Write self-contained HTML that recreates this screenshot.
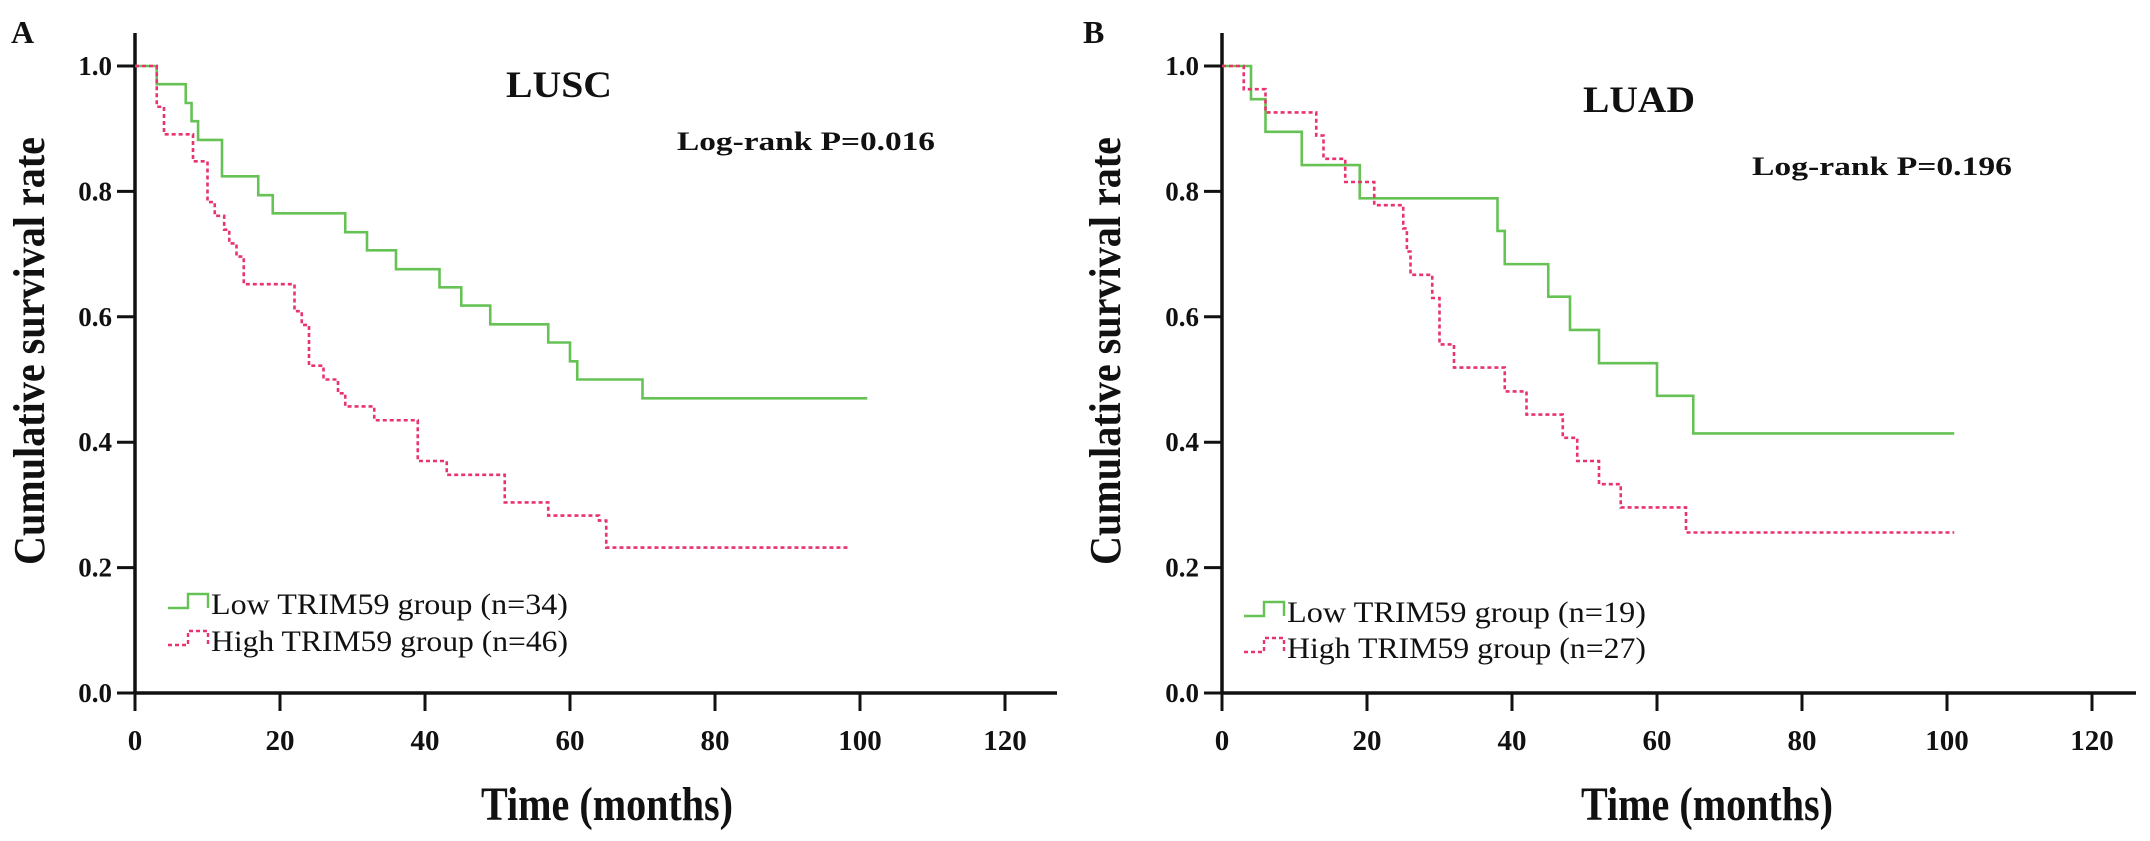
<!DOCTYPE html>
<html><head><meta charset="utf-8">
<style>
html,body{margin:0;padding:0;background:#fff;}
svg{display:block;}
text{font-family:"Liberation Serif",serif;fill:#111;}
.b{font-weight:bold;}
</style></head>
<body>
<svg id="fig" width="2150" height="841" viewBox="0 0 2150 841" xmlns="http://www.w3.org/2000/svg"></svg>
<script>
const xTicks=[0,20,40,60,80,100,120];
const yTicks=[0,0.2,0.4,0.6,0.8,1.0];
const yTickLabels=["0.0","0.2","0.4","0.6","0.8","1.0"];
// Panel A (LUSC)
const aLowTimes=[0,3,7,7.8,8.7,12,17,19,29,32,36,42,45,49,57,60,61,70,101];
const aLowSurv=[1,0.971,0.941,0.912,0.882,0.824,0.794,0.765,0.735,0.706,0.676,0.647,0.618,0.588,0.559,0.529,0.5,0.47,0.47];
const aHighTimes=[0,3,4,8,10,11,12.3,13,14,15,22,23,24,26,28,29,33,39,43,51,57,64,65,98.5];
const aHighSurv=[1,0.935,0.891,0.848,0.783,0.761,0.739,0.717,0.696,0.652,0.609,0.587,0.522,0.5,0.478,0.457,0.435,0.37,0.348,0.304,0.283,0.275,0.232,0.232];
// Panel B (LUAD)
const bLowTimes=[0,4,6,11,19,38,39,45,48,52,60,65,101];
const bLowSurv=[1,0.947,0.895,0.842,0.789,0.737,0.684,0.632,0.579,0.526,0.474,0.414,0.414];
const bHighTimes=[0,3,6,13,14,17,21,25,25.5,26,29,30,32,39,42,47,49,52,55,64,101];
const bHighSurv=[1,0.963,0.926,0.889,0.852,0.815,0.778,0.741,0.704,0.667,0.63,0.556,0.519,0.481,0.444,0.407,0.37,0.333,0.296,0.256,0.256];

const NS="http://www.w3.org/2000/svg";
const svg=document.getElementById('fig');
function mk(tag,attrs,parent){const e=document.createElementNS(NS,tag);for(const k in attrs)e.setAttribute(k,attrs[k]);(parent||svg).appendChild(e);return e;}
function txt(s,attrs,parent){const e=mk('text',attrs,parent);e.textContent=s;return e;}

function panel(o){
  const g=mk('g',{});
  
  
  const x0=o.x0, y0=693, pxPerMonth=7.25, pxPerUnit=627;
  const sx=t=>x0+t*pxPerMonth;
  const sy=v=>y0-v*pxPerUnit;
  const ya=mk('line',{x1:x0,y1:33,x2:x0,y2:y0+1.5,stroke:'#111','stroke-width':3.5},g);
  
  
  const xa=mk('line',{x1:x0-1.5,y1:y0,x2:x0+o.axisLen,y2:y0,stroke:'#111','stroke-width':3.5},g);
  
  
  yTicks.forEach((v,i)=>{
    mk('line',{x1:x0-18,y1:sy(v),x2:x0,y2:sy(v),stroke:'#111','stroke-width':3},g);
    const t=txt(yTickLabels[i],{x:x0-23,y:sy(v)+9,'text-anchor':'end','font-size':27,class:'b'},g);
    
    
  });
  xTicks.forEach(v=>{
    mk('line',{x1:sx(v),y1:y0,x2:sx(v),y2:y0+18,stroke:'#111','stroke-width':3},g);
    const t=txt(String(v),{x:sx(v),y:750,'text-anchor':'middle','font-size':29,class:'b'},g);
    
    
  });
  function curve(times,surv,color,dash,name){
    let d='M'+sx(times[0])+','+sy(surv[0]);
    for(let i=1;i<times.length;i++){d+=' H'+sx(times[i])+' V'+sy(surv[i]);}
    const p=mk('path',{d:d,fill:'none',stroke:color,'stroke-width':2.6},g);
    if(dash)p.setAttribute('stroke-dasharray',dash);
    
    
  }
  curve(o.lowT,o.lowS,'#66c255',null,'low-trim59-curve');
  curve(o.highT,o.highS,'#e8336d','4 3','high-trim59-curve');
  const L=txt(o.letter,{x:o.letterX,y:43,'font-size':32,class:'b'},g);
  
  
  const T=txt(o.title,{x:o.titleX,y:o.titleY,'font-size':37,class:'b',textLength:o.titleW,lengthAdjust:'spacingAndGlyphs'},g);
  
  
  const P=txt(o.p,{x:o.pX,y:o.pY,'font-size':26,class:'b',textLength:o.pW,lengthAdjust:'spacingAndGlyphs'},g);
  
  
  const XT=txt('Time (months)',{x:o.xtX,y:820,'font-size':48,class:'b','text-anchor':'middle',textLength:252,lengthAdjust:'spacingAndGlyphs'},g);
  
  
  const YT=txt('Cumulative survival rate',{x:0,y:0,'font-size':44,class:'b','text-anchor':'middle',textLength:428,lengthAdjust:'spacingAndGlyphs',transform:'translate('+o.ytX+',351) rotate(-90)'},g);
  
  
  const lx=o.legX, ly=[o.legY1,o.legY2];
  const entries=[[o.lowLabel,'#66c255',null],[o.highLabel,'#e8336d','4 3']];
  entries.forEach((e,i)=>{
    const gg=mk('g',{},g);
    
    
    const b=ly[i];
    const p=mk('path',{d:'M'+lx+','+(b-6)+' H'+(lx+20)+' V'+(b-20)+' H'+(lx+40)+' V'+(b-6),fill:'none',stroke:e[1],'stroke-width':2.4},gg);
    if(e[2])p.setAttribute('stroke-dasharray',e[2]);
    txt(e[0],{x:lx+43,y:b,'font-size':30,textLength:o.legW,lengthAdjust:'spacingAndGlyphs'},gg);
  });
}
panel({name:'panel-a-lusc',x0:135,axisLen:922,lowT:aLowTimes,lowS:aLowSurv,highT:aHighTimes,highS:aHighSurv,
  letter:'A',letterX:11,title:'LUSC',titleX:506,titleY:97,titleW:106,p:'Log-rank P=0.016',pX:677,pY:150,pW:258,
  xtX:607,ytX:44,legX:168,legY1:614,legY2:651,legW:357,lowLabel:'Low TRIM59 group (n=34)',highLabel:'High TRIM59 group (n=46)'});
panel({name:'panel-b-luad',x0:1222,axisLen:914,lowT:bLowTimes,lowS:bLowSurv,highT:bHighTimes,highS:bHighSurv,
  letter:'B',letterX:1083,title:'LUAD',titleX:1583,titleY:112,titleW:112,p:'Log-rank P=0.196',pX:1752,pY:175,pW:260,
  xtX:1707,ytX:1120,legX:1244,legY1:622,legY2:658,legW:359,lowLabel:'Low TRIM59 group (n=19)',highLabel:'High TRIM59 group (n=27)'});
</script>
</body></html>
